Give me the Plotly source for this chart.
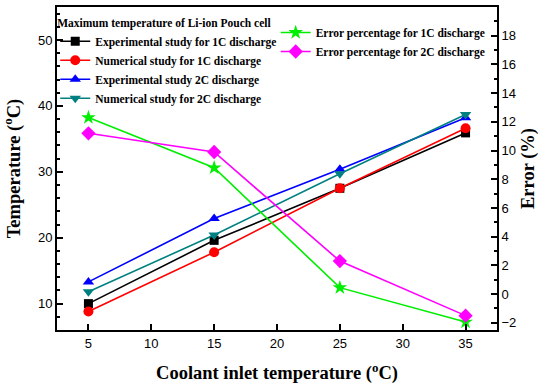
import plotly.graph_objects as go

x_vals = [5, 15, 25, 35]
exp_1c = [10.0, 19.6, 27.5, 35.9]
num_1c = [8.8, 17.8, 27.5, 36.6]
exp_2c = [13.3, 22.9, 30.4, 38.2]
num_2c = [11.8, 20.4, 29.7, 38.7]
err_1c = [12.3, 8.8, 0.45, -1.95]
err_2c = [11.2, 9.9, 2.3, -1.5]

serif = "Liberation Serif, Times New Roman, serif"
sans = "Liberation Sans, Arial, sans-serif"

fig = go.Figure()

def add(y, name, color, symbol, axis="y", legend="legend", size=9):
    fig.add_trace(go.Scatter(
        x=x_vals, y=y, name="<b>" + name + "</b>", mode="lines+markers", yaxis=axis, legend=legend,
        line=dict(color=color, width=1.6),
        marker=dict(color=color, symbol=symbol, size=size),
    ))

add(exp_1c, "Experimental study for 1C discharge", "#000000", "square")
add(num_1c, "Numerical study for 1C discharge", "#ff0000", "circle", size=10)
add(exp_2c, "Experimental study 2C discharge", "#0000ff", "triangle-up", size=10)
add(num_2c, "Numerical study for 2C discharge", "#008080", "triangle-down", size=10)
add(err_1c, "Error percentage for 1C discharge", "#00ee00", "star", axis="y2", legend="legend2", size=11)
add(err_2c, "Error percentage for 2C discharge", "#ff00ff", "diamond", axis="y2", legend="legend2", size=11)

axis_common = dict(showline=True, linecolor="black", linewidth=1.8, ticks="inside",
                   tickcolor="black", tickwidth=1.5, ticklen=6, showgrid=False,
                   zeroline=False, tickfont=dict(family=sans, size=13, color="black"))

title_font = dict(family=serif, size=18.5, color="black")
leg_font = dict(family=serif, size=11.5, color="black")

fig.update_layout(
    width=550, height=389,
    margin=dict(l=57, r=53, t=5, b=59),
    plot_bgcolor="white", paper_bgcolor="white",
    xaxis=dict(range=[2.5, 37.5], tickvals=[5, 10, 15, 20, 25, 30, 35], mirror=True,
               title=dict(text="<b>Coolant inlet temperature (<sup>o</sup>C)</b>",
                          font=title_font, standoff=17),
               **axis_common),
    yaxis=dict(range=[6, 55], tickvals=[10, 20, 30, 40, 50],
               minor=dict(dtick=2, ticks="inside", ticklen=3, tickcolor="black"),
               title=dict(text="<b>Temperature (<sup>o</sup>C)</b>",
                          font=title_font, standoff=14),
               **axis_common),
    yaxis2=dict(range=[-2.5, 20], tickvals=[-2, 0, 2, 4, 6, 8, 10, 12, 14, 16, 18],
                overlaying="y", side="right",
                minor=dict(dtick=1, ticks="inside", ticklen=3, tickcolor="black"),
                title=dict(text="<b>Error (%)</b>", font=title_font, standoff=6),
                **axis_common),
    legend=dict(x=-0.004, y=0.985, xanchor="left", yanchor="top",
                bgcolor="rgba(0,0,0,0)",
                title=dict(text="<b>Maximum temperature of Li-ion Pouch cell</b>", font=leg_font),
                font=leg_font, itemwidth=30, tracegroupgap=0),
    legend2=dict(x=0.497, y=0.966, xanchor="left", yanchor="top",
                 bgcolor="rgba(0,0,0,0)", font=leg_font, itemwidth=30),
)

fig.write_html("out.html", post_script="document.body.style.margin='0';",
               config={"displayModeBar": False})
